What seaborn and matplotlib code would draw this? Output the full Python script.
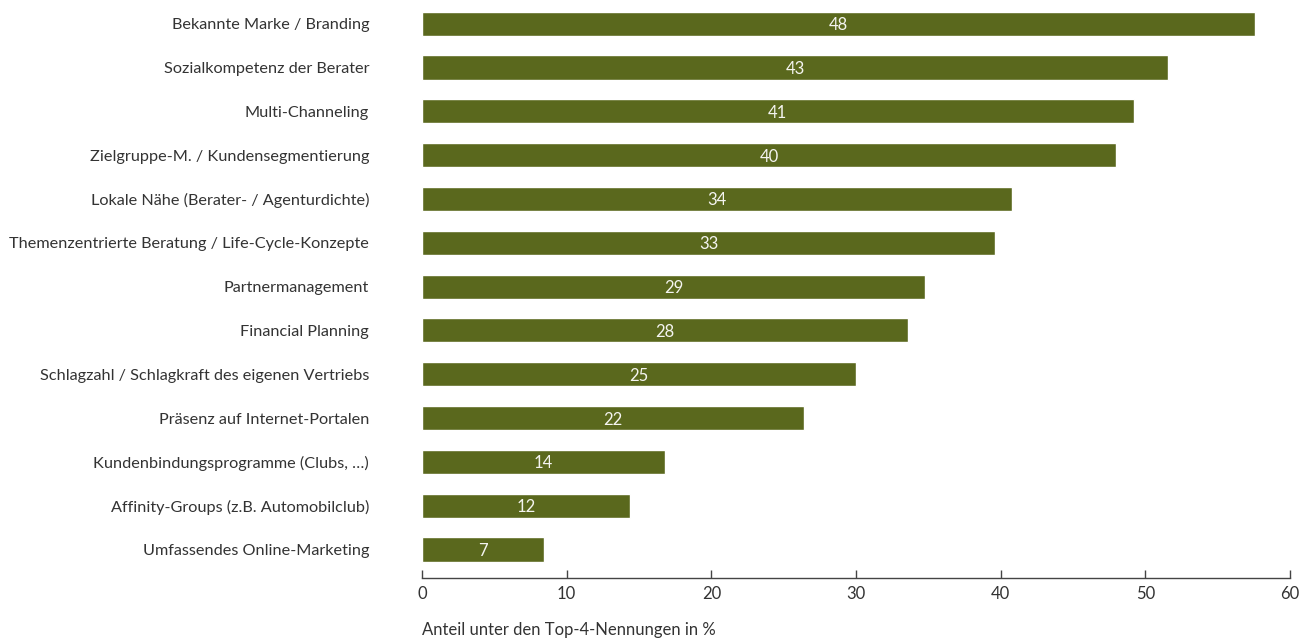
import matplotlib
matplotlib.use("Agg")
import matplotlib.pyplot as plt
import seaborn as sns
import pandas as pd

# Categories (top to bottom)
categories = [
    "Bekannte Marke / Branding",
    "Sozialkompetenz der Berater",
    "Multi-Channeling",
    "Zielgruppe-M. / Kundensegmentierung",
    "Lokale Nähe (Berater- / Agenturdichte)",
    "Themenzentrierte Beratung / Life-Cycle-Konzepte",
    "Partnermanagement",
    "Financial Planning",
    "Schlagzahl / Schlagkraft des eigenen Vertriebs",
    "Präsenz auf Internet-Portalen",
    "Kundenbindungsprogramme (Clubs, …)",
    "Affinity-Groups (z.B. Automobilclub)",
    "Umfassendes Online-Marketing",
]
# Printed labels inside bars
value_labels = [48, 43, 41, 40, 34, 33, 29, 28, 25, 22, 14, 12, 7]
# Bar lengths as drawn against the axis
bar_lengths = [57.6, 51.6, 49.2, 48.0, 40.8, 39.6, 34.8, 33.6, 30.0, 26.4, 16.8, 14.4, 8.4]
x_ticks = [0, 10, 20, 30, 40, 50, 60]

BAR_COLOR = "#5a681d"
TEXT_COLOR = "#333333"


def main():
    sns.set_style("white")
    plt.rcParams["font.family"] = ["Lato", "DejaVu Sans"]

    df = pd.DataFrame({"Kategorie": categories, "Wert": bar_lengths})

    fig = plt.figure(figsize=(13, 6.41), dpi=100)
    ax = fig.add_axes([422 / 1300, (641 - 578) / 641, 868 / 1300, 578 / 641])

    sns.barplot(data=df, x="Wert", y="Kategorie", color=BAR_COLOR,
                saturation=1, width=0.55, ax=ax)

    for i, (length, lab) in enumerate(zip(bar_lengths, value_labels)):
        ax.text(length / 2, i, str(lab), ha="center", va="center_baseline",
                color="#f4f4f0", fontsize=12)

    ax.set_xlim(0, 60)
    ax.set_ylim(12.65, -0.54)
    ax.set_xticks(x_ticks)
    ax.set_xticklabels([str(t) for t in x_ticks], fontsize=12, color=TEXT_COLOR)
    ax.tick_params(axis="x", bottom=True, direction="in", length=6, width=1,
                   color="#444444", pad=6)
    ax.tick_params(axis="y", left=False, length=0, pad=38, labelsize=11.7,
                   labelcolor=TEXT_COLOR)

    for side in ["top", "right", "left"]:
        ax.spines[side].set_visible(False)
    ax.spines["bottom"].set_color("#444444")
    ax.spines["bottom"].set_linewidth(1)

    ax.set_ylabel("")
    ax.set_xlabel("Anteil unter den Top-4-Nennungen in %", fontsize=12,
                  color=TEXT_COLOR, loc="left", labelpad=14)

    fig.savefig("out.png", dpi=100)


if __name__ == "__main__":
    main()
